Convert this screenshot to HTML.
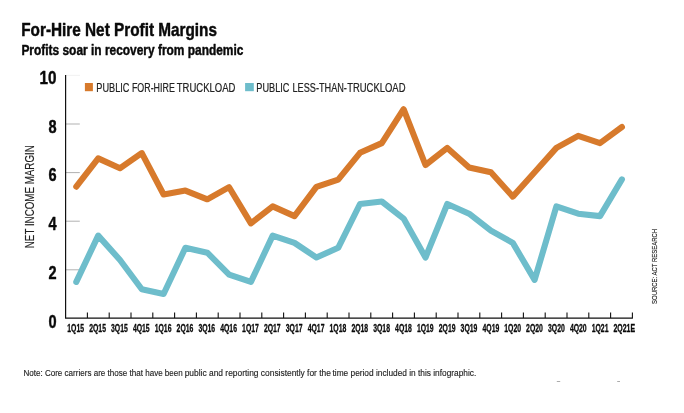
<!DOCTYPE html><html><head><meta charset="utf-8"><title>For-Hire Net Profit Margins</title><style>html,body{margin:0;padding:0;background:#fff}svg{display:block}text{font-family:"Liberation Sans",sans-serif;fill:#0a0a0a}.nt{fill:#222;stroke:#222;stroke-width:.15px}.lg{fill:#222;stroke:#222;stroke-width:.2px}.b{font-weight:bold;stroke:#0a0a0a;stroke-width:.45px;stroke-linejoin:round}</style></head><body>
<svg width="684" height="413" viewBox="0 0 684 413">
<rect width="684" height="413" fill="#fff"/>
<text class="b" transform="translate(21.2,36.4) rotate(0.02)" font-size="18.4" textLength="195.8" lengthAdjust="spacingAndGlyphs">For-Hire Net Profit Margins</text>
<text class="b" transform="translate(21.4,55.1) rotate(0.02)" font-size="14.5" textLength="222" lengthAdjust="spacingAndGlyphs">Profits soar in recovery from pandemic</text>
<line x1="66" x2="80" y1="75.4" y2="75.4" stroke="#eee" stroke-width="0.8"/>
<line x1="66" x2="79.8" y1="269.8" y2="269.8" stroke="#8f8f8f" stroke-width="0.7"/>
<line x1="66" x2="79.8" y1="221.2" y2="221.2" stroke="#8f8f8f" stroke-width="0.7"/>
<line x1="66" x2="79.8" y1="172.6" y2="172.6" stroke="#8f8f8f" stroke-width="0.7"/>
<line x1="66" x2="79.8" y1="124.0" y2="124.0" stroke="#8f8f8f" stroke-width="0.7"/>
<path d="M65.6 75 V318.1 H632.9" fill="none" stroke="#111" stroke-width="1.2"/>
<line x1="87.4" x2="87.4" y1="312.5" y2="318.1" stroke="#111" stroke-width="1.1"/>
<line x1="109.2" x2="109.2" y1="312.5" y2="318.1" stroke="#111" stroke-width="1.1"/>
<line x1="131.0" x2="131.0" y1="312.5" y2="318.1" stroke="#111" stroke-width="1.1"/>
<line x1="152.8" x2="152.8" y1="312.5" y2="318.1" stroke="#111" stroke-width="1.1"/>
<line x1="174.6" x2="174.6" y1="312.5" y2="318.1" stroke="#111" stroke-width="1.1"/>
<line x1="196.4" x2="196.4" y1="312.5" y2="318.1" stroke="#111" stroke-width="1.1"/>
<line x1="218.2" x2="218.2" y1="312.5" y2="318.1" stroke="#111" stroke-width="1.1"/>
<line x1="240.0" x2="240.0" y1="312.5" y2="318.1" stroke="#111" stroke-width="1.1"/>
<line x1="261.8" x2="261.8" y1="312.5" y2="318.1" stroke="#111" stroke-width="1.1"/>
<line x1="283.6" x2="283.6" y1="312.5" y2="318.1" stroke="#111" stroke-width="1.1"/>
<line x1="305.4" x2="305.4" y1="312.5" y2="318.1" stroke="#111" stroke-width="1.1"/>
<line x1="327.2" x2="327.2" y1="312.5" y2="318.1" stroke="#111" stroke-width="1.1"/>
<line x1="349.0" x2="349.0" y1="312.5" y2="318.1" stroke="#111" stroke-width="1.1"/>
<line x1="370.8" x2="370.8" y1="312.5" y2="318.1" stroke="#111" stroke-width="1.1"/>
<line x1="392.6" x2="392.6" y1="312.5" y2="318.1" stroke="#111" stroke-width="1.1"/>
<line x1="414.4" x2="414.4" y1="312.5" y2="318.1" stroke="#111" stroke-width="1.1"/>
<line x1="436.2" x2="436.2" y1="312.5" y2="318.1" stroke="#111" stroke-width="1.1"/>
<line x1="458.0" x2="458.0" y1="312.5" y2="318.1" stroke="#111" stroke-width="1.1"/>
<line x1="479.8" x2="479.8" y1="312.5" y2="318.1" stroke="#111" stroke-width="1.1"/>
<line x1="501.6" x2="501.6" y1="312.5" y2="318.1" stroke="#111" stroke-width="1.1"/>
<line x1="523.4" x2="523.4" y1="312.5" y2="318.1" stroke="#111" stroke-width="1.1"/>
<line x1="545.2" x2="545.2" y1="312.5" y2="318.1" stroke="#111" stroke-width="1.1"/>
<line x1="567.0" x2="567.0" y1="312.5" y2="318.1" stroke="#111" stroke-width="1.1"/>
<line x1="588.8" x2="588.8" y1="312.5" y2="318.1" stroke="#111" stroke-width="1.1"/>
<line x1="610.6" x2="610.6" y1="312.5" y2="318.1" stroke="#111" stroke-width="1.1"/>
<line x1="632.4" x2="632.4" y1="312.5" y2="318.1" stroke="#111" stroke-width="1.1"/>
<text class="b" transform="translate(56.6,327.7) rotate(0.02)" font-size="18.4" text-anchor="end" textLength="8.1" lengthAdjust="spacingAndGlyphs">0</text>
<text class="b" transform="translate(56.6,279.0) rotate(0.02)" font-size="18.4" text-anchor="end" textLength="8.1" lengthAdjust="spacingAndGlyphs">2</text>
<text class="b" transform="translate(56.6,230.2) rotate(0.02)" font-size="18.4" text-anchor="end" textLength="8.1" lengthAdjust="spacingAndGlyphs">4</text>
<text class="b" transform="translate(56.6,181.5) rotate(0.02)" font-size="18.4" text-anchor="end" textLength="8.1" lengthAdjust="spacingAndGlyphs">6</text>
<text class="b" transform="translate(56.6,132.7) rotate(0.02)" font-size="18.4" text-anchor="end" textLength="8.1" lengthAdjust="spacingAndGlyphs">8</text>
<text class="b" transform="translate(56.6,84.0) rotate(0.02)" font-size="18.4" text-anchor="end" textLength="17.0" lengthAdjust="spacingAndGlyphs">10</text>
<text class="b" style="stroke-width:.3px" transform="translate(67.3,331.6) rotate(0.02)" font-size="10.1" textLength="16.8" lengthAdjust="spacingAndGlyphs">1Q15</text>
<text class="b" style="stroke-width:.3px" transform="translate(89.2,331.6) rotate(0.02)" font-size="10.1" textLength="16.8" lengthAdjust="spacingAndGlyphs">2Q15</text>
<text class="b" style="stroke-width:.3px" transform="translate(111.0,331.6) rotate(0.02)" font-size="10.1" textLength="16.8" lengthAdjust="spacingAndGlyphs">3Q15</text>
<text class="b" style="stroke-width:.3px" transform="translate(132.9,331.6) rotate(0.02)" font-size="10.1" textLength="16.8" lengthAdjust="spacingAndGlyphs">4Q15</text>
<text class="b" style="stroke-width:.3px" transform="translate(154.7,331.6) rotate(0.02)" font-size="10.1" textLength="16.8" lengthAdjust="spacingAndGlyphs">1Q16</text>
<text class="b" style="stroke-width:.3px" transform="translate(176.6,331.6) rotate(0.02)" font-size="10.1" textLength="16.8" lengthAdjust="spacingAndGlyphs">2Q16</text>
<text class="b" style="stroke-width:.3px" transform="translate(198.4,331.6) rotate(0.02)" font-size="10.1" textLength="16.8" lengthAdjust="spacingAndGlyphs">3Q16</text>
<text class="b" style="stroke-width:.3px" transform="translate(220.2,331.6) rotate(0.02)" font-size="10.1" textLength="16.8" lengthAdjust="spacingAndGlyphs">4Q16</text>
<text class="b" style="stroke-width:.3px" transform="translate(242.1,331.6) rotate(0.02)" font-size="10.1" textLength="16.8" lengthAdjust="spacingAndGlyphs">1Q17</text>
<text class="b" style="stroke-width:.3px" transform="translate(263.9,331.6) rotate(0.02)" font-size="10.1" textLength="16.8" lengthAdjust="spacingAndGlyphs">2Q17</text>
<text class="b" style="stroke-width:.3px" transform="translate(285.8,331.6) rotate(0.02)" font-size="10.1" textLength="16.8" lengthAdjust="spacingAndGlyphs">3Q17</text>
<text class="b" style="stroke-width:.3px" transform="translate(307.7,331.6) rotate(0.02)" font-size="10.1" textLength="16.8" lengthAdjust="spacingAndGlyphs">4Q17</text>
<text class="b" style="stroke-width:.3px" transform="translate(329.5,331.6) rotate(0.02)" font-size="10.1" textLength="16.8" lengthAdjust="spacingAndGlyphs">1Q18</text>
<text class="b" style="stroke-width:.3px" transform="translate(351.4,331.6) rotate(0.02)" font-size="10.1" textLength="16.8" lengthAdjust="spacingAndGlyphs">2Q18</text>
<text class="b" style="stroke-width:.3px" transform="translate(373.2,331.6) rotate(0.02)" font-size="10.1" textLength="16.8" lengthAdjust="spacingAndGlyphs">3Q18</text>
<text class="b" style="stroke-width:.3px" transform="translate(395.1,331.6) rotate(0.02)" font-size="10.1" textLength="16.8" lengthAdjust="spacingAndGlyphs">4Q18</text>
<text class="b" style="stroke-width:.3px" transform="translate(416.9,331.6) rotate(0.02)" font-size="10.1" textLength="16.8" lengthAdjust="spacingAndGlyphs">1Q19</text>
<text class="b" style="stroke-width:.3px" transform="translate(438.8,331.6) rotate(0.02)" font-size="10.1" textLength="16.8" lengthAdjust="spacingAndGlyphs">2Q19</text>
<text class="b" style="stroke-width:.3px" transform="translate(460.6,331.6) rotate(0.02)" font-size="10.1" textLength="16.8" lengthAdjust="spacingAndGlyphs">3Q19</text>
<text class="b" style="stroke-width:.3px" transform="translate(482.5,331.6) rotate(0.02)" font-size="10.1" textLength="16.8" lengthAdjust="spacingAndGlyphs">4Q19</text>
<text class="b" style="stroke-width:.3px" transform="translate(504.3,331.6) rotate(0.02)" font-size="10.1" textLength="16.8" lengthAdjust="spacingAndGlyphs">1Q20</text>
<text class="b" style="stroke-width:.3px" transform="translate(526.1,331.6) rotate(0.02)" font-size="10.1" textLength="16.8" lengthAdjust="spacingAndGlyphs">2Q20</text>
<text class="b" style="stroke-width:.3px" transform="translate(548.0,331.6) rotate(0.02)" font-size="10.1" textLength="16.8" lengthAdjust="spacingAndGlyphs">3Q20</text>
<text class="b" style="stroke-width:.3px" transform="translate(569.9,331.6) rotate(0.02)" font-size="10.1" textLength="16.8" lengthAdjust="spacingAndGlyphs">4Q20</text>
<text class="b" style="stroke-width:.3px" transform="translate(591.7,331.6) rotate(0.02)" font-size="10.1" textLength="16.8" lengthAdjust="spacingAndGlyphs">1Q21</text>
<text class="b" style="stroke-width:.3px" transform="translate(613.5,331.6) rotate(0.02)" font-size="10.1" textLength="21.6" lengthAdjust="spacingAndGlyphs">2Q21E</text>
<polyline points="76.3,281.9 98.2,235.6 120.0,260.0 141.8,289.2 163.6,294.0 185.4,247.8 207.3,252.7 229.1,274.6 250.9,281.9 272.7,235.6 294.5,242.9 316.4,257.5 338.2,247.8 360.0,204.0 381.8,201.5 403.6,218.6 425.5,257.5 447.3,204.0 469.1,213.7 490.9,230.7 512.8,242.9 534.6,279.9 556.4,206.4 578.2,213.7 600.0,216.1 621.9,179.4" fill="none" stroke="#6ebdcb" stroke-width="6.1" stroke-linejoin="round" stroke-linecap="round"/>
<polyline points="76.3,186.7 98.2,158.4 120.0,168.2 141.8,153.1 163.6,194.5 185.4,190.6 207.3,199.3 229.1,187.2 250.9,223.4 272.7,206.4 294.5,216.1 316.4,186.9 338.2,179.6 360.0,152.8 381.8,143.1 403.6,109.2 425.5,165.0 447.3,147.9 469.1,167.4 490.9,172.3 512.8,196.6 534.6,172.3 556.4,147.9 578.2,135.8 600.0,143.1 621.9,127.0" fill="none" stroke="#d77a2c" stroke-width="6.1" stroke-linejoin="round" stroke-linecap="round"/>
<rect x="84.9" y="83" width="8" height="8.2" fill="#d77a2c"/>
<text class="lg" transform="translate(96.3,91.65) rotate(0.02)" font-size="11.9" textLength="33.1" lengthAdjust="spacingAndGlyphs">PUBLIC</text>
<text class="lg" transform="translate(131.9,91.65) rotate(0.02)" font-size="11.9" textLength="42.9" lengthAdjust="spacingAndGlyphs">FOR-HIRE</text>
<text class="lg" transform="translate(176.8,91.65) rotate(0.02)" font-size="11.9" textLength="58.6" lengthAdjust="spacingAndGlyphs">TRUCKLOAD</text>
<rect x="245.1" y="83" width="8.7" height="8.2" fill="#6ebdcb"/>
<text class="lg" transform="translate(256.3,91.65) rotate(0.02)" font-size="11.9" textLength="33.1" lengthAdjust="spacingAndGlyphs">PUBLIC</text>
<text class="lg" transform="translate(292.5,91.65) rotate(0.02)" font-size="11.9" textLength="54.4" lengthAdjust="spacingAndGlyphs">LESS-THAN-</text>
<text class="lg" transform="translate(347.2,91.65) rotate(0.02)" font-size="11.9" textLength="58.3" lengthAdjust="spacingAndGlyphs">TRUCKLOAD</text>
<text class="nt" transform="translate(34.35,248.2) rotate(-90)" font-size="12.7" textLength="103" lengthAdjust="spacingAndGlyphs">NET INCOME MARGIN</text>
<text class="nt" transform="translate(657.1,303.9) rotate(-90)" font-size="7.8" textLength="75" lengthAdjust="spacingAndGlyphs">SOURCE: ACT RESEARCH</text>
<text class="nt" transform="translate(23.4,375.7) rotate(0.02)" font-size="9.9" textLength="159.4" lengthAdjust="spacingAndGlyphs">Note: Core carriers are those that have been</text>
<text class="nt" transform="translate(184.7,375.7) rotate(0.02)" font-size="9.9" textLength="146.2" lengthAdjust="spacingAndGlyphs">public and reporting consistently for the</text>
<text class="nt" transform="translate(332.5,375.7) rotate(0.02)" font-size="9.9" textLength="143.7" lengthAdjust="spacingAndGlyphs">time period included in this infographic.</text>
<rect x="556.8" y="381" width="3.4" height="0.7" fill="#888"/><rect x="617.2" y="381" width="2.8" height="0.7" fill="#888"/>
</svg></body></html>
